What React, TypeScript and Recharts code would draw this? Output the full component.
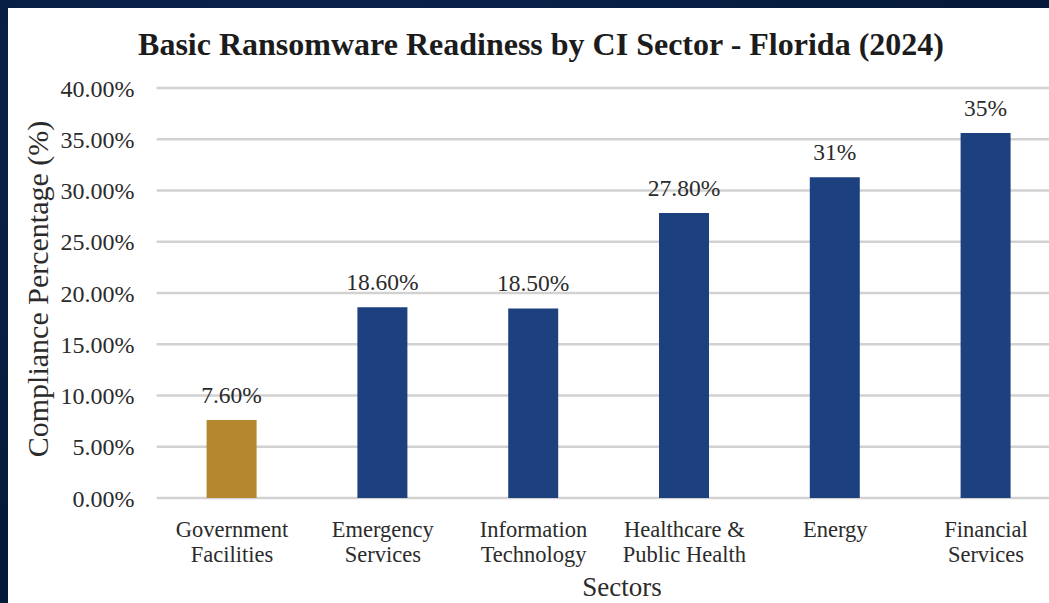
import { BarChart, Bar, XAxis, YAxis, CartesianGrid, Cell, LabelList } from "recharts";

// Sector names split over two lines, as in the source slide.
const sectorLine1 = ["Government", "Emergency", "Information", "Healthcare &", "Energy", "Financial"];
const sectorLine2 = ["Facilities", "Services", "Technology", "Public Health", "", "Services"];
const compliance = [7.6, 18.6, 18.5, 27.8, 31.3, 35.6];
const valueLabels = ["7.60%", "18.60%", "18.50%", "27.80%", "31%", "35%"];
const barColors = ["#b5872f", "#1c417e", "#1c417e", "#1c417e", "#1c417e", "#1c417e"];
const yTicks = [0, 5, 10, 15, 20, 25, 30, 35, 40];

const FONT = '"Liberation Serif", "DejaVu Serif", serif';
const TEXT = "#2b2b2b";

const data = compliance.map((v, i) => ({
  key: i,
  value: v,
  label: valueLabels[i],
}));

function SectorTick(props: any) {
  const { x, y, payload } = props;
  const i = payload.value as number;
  return (
    <g>
      <text x={x} y={y + 31} textAnchor="middle" fontFamily={FONT} fontSize={22.5} fill={TEXT}>
        {sectorLine1[i]}
      </text>
      <text x={x} y={y + 55.5} textAnchor="middle" fontFamily={FONT} fontSize={22.5} fill={TEXT}>
        {sectorLine2[i]}
      </text>
    </g>
  );
}

function ValueLabel(props: any) {
  const { x, y, width, index } = props;
  return (
    <text x={x + width / 2} y={y - 17} textAnchor="middle" fontFamily={FONT} fontSize={23.5} fill={TEXT}>
      {valueLabels[index]}
    </text>
  );
}

export default function App() {
  return (
    <div
      style={{
        position: "fixed",
        left: 0,
        top: 0,
        width: 1049,
        height: 603,
        overflow: "hidden",
        background: "radial-gradient(ellipse at 30% 20%, #0b2550 0%, #061b3c 60%, #051937 100%)",
      }}
    >
      <div
        style={{
          position: "absolute",
          left: 8,
          top: 8,
          width: 1041,
          height: 595,
          background: "#ffffff",
          overflow: "hidden",
        }}
      >
        <div
          style={{
            position: "absolute",
            left: 0,
            top: 0,
            width: 1066,
            textAlign: "center",
            fontFamily: FONT,
            fontWeight: "bold",
            fontSize: 32,
            lineHeight: "72px",
            color: "#1c1c1c",
          }}
        >
          Basic Ransomware Readiness by CI Sector - Florida (2024)
        </div>
        <BarChart
          width={1070}
          height={595}
          data={data}
          margin={{ top: 80, right: 16.6, left: 0, bottom: 40 }}
          style={{ position: "absolute", left: 0, top: 0 }}
        >
          <CartesianGrid vertical={false} stroke="#d2d2d2" strokeWidth={2.5} />
          <XAxis
            dataKey="key"
            axisLine={false}
            tickLine={false}
            tick={<SectorTick />}
            height={65}
            interval={0}
          />
          <YAxis
            domain={[0, 40]}
            ticks={yTicks}
            width={148.6}
            axisLine={false}
            tickLine={false}
            tickSize={0}
            tickMargin={22}
            tickFormatter={(v: number) => v.toFixed(2) + "%"}
            tick={{ fontFamily: FONT, fontSize: 24, fill: TEXT }}
          />
          <Bar dataKey="value" barSize={50} isAnimationActive={false}>
            {data.map((d, i) => (
              <Cell key={d.key} fill={barColors[i]} />
            ))}
            <LabelList dataKey="label" content={<ValueLabel />} />
          </Bar>
        </BarChart>
        <div
          style={{
            position: "absolute",
            left: 30 - 200,
            top: 281 - 20,
            width: 400,
            height: 40,
            lineHeight: "40px",
            textAlign: "center",
            transform: "rotate(-90deg)",
            fontFamily: FONT,
            fontSize: 30,
            color: TEXT,
          }}
        >
          Compliance Percentage (%)
        </div>
        <div
          style={{
            position: "absolute",
            left: 614 - 100,
            top: 567,
            width: 200,
            textAlign: "center",
            fontFamily: FONT,
            fontSize: 27,
            lineHeight: "24px",
            color: TEXT,
          }}
        >
          Sectors
        </div>
      </div>
    </div>
  );
}
